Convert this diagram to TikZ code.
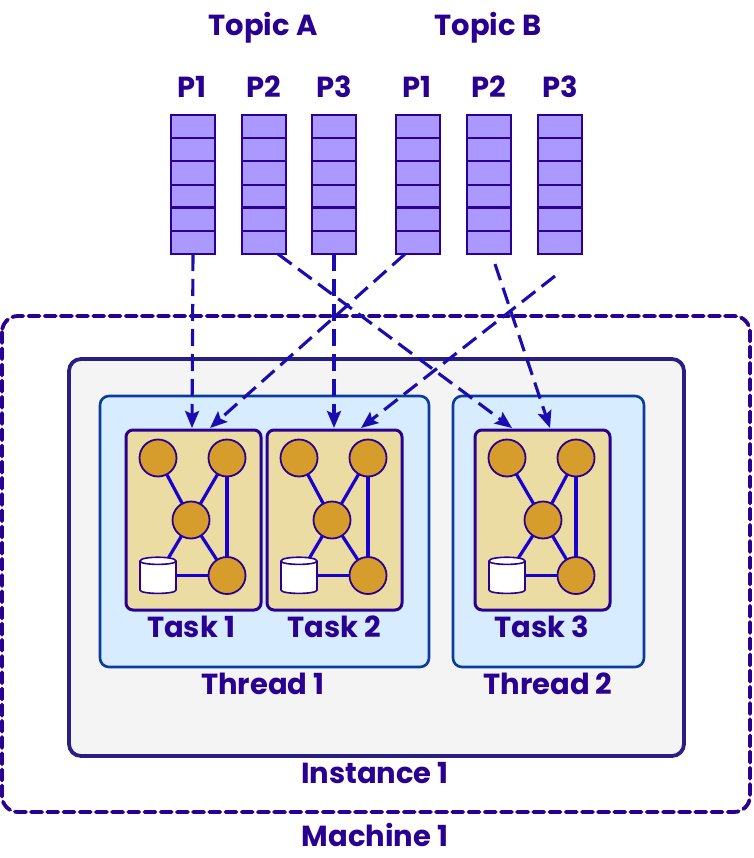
\documentclass[tikz,border=0pt]{standalone}
\usepackage{fontspec}
\setmainfont{Poppins}
\usetikzlibrary{arrows.meta,shapes.geometric,calc}
\definecolor{txt}{HTML}{2A0090}
\definecolor{flow}{HTML}{1A0DB0}
\definecolor{edgeblue}{HTML}{1A00D0}
\definecolor{qfill}{HTML}{AB99FF}
\definecolor{tfill}{HTML}{EBDCA4}
\definecolor{cfill}{HTML}{D79D2C}
\definecolor{thfill}{HTML}{D8ECFF}
\definecolor{thline}{HTML}{0A3C9C}
\definecolor{inline}{HTML}{2A1F80}
\definecolor{infill}{HTML}{F4F4F4}
\newcommand{\qrow}[2]{%
  \node[queuebox] (#1) at (#2,184.5) {};
  \foreach \i/\w in {1/2,2/2,3/2,4/2.8,5/2}{\draw[draw=txt,line width=\w pt] (#2-22,115+\i*23.17) -- (#2+22,115+\i*23.17);}
}
\newcommand{\mktask}[5]{% name, left x, label, mid offset, label x
  \node[taskbox] (#1) at (#2+67.5,520) {};
  \node[opnode] (#1a) at (#2+32,458) {};
  \node[opnode] (#1b) at (#2+101,458) {};
  \node[opnode] (#1c) at (#2+#4,520) {};
  \node[opnode] (#1d) at (#2+101,575.5) {};
  \node[store] (#1e) at (#2+32,575.5) {};
  \draw[storeline] (#2+14,561) -- (#2+14,590) .. controls (#2+14,594.5) and (#2+50,594.5) .. (#2+50,590) -- (#2+50,561)
     .. controls (#2+50,556) and (#2+14,556) .. (#2+14,561) .. controls (#2+14,565.5) and (#2+50,565.5) .. (#2+50,561);
  \draw[graphedge] (#1a) -- (#1c);
  \draw[graphedge] (#1b) -- (#1c);
  \draw[graphedge] (#1b) -- (#1d);
  \draw[graphedge] (#1c) -- (#1d);
  \draw[graphedge] (#1c) -- (#1e);
  \draw[graphedge] (#1e) -- (#1d);
  \node[lbl] at (#5,637) {#3};
}
\tikzset{
  lbl/.style={font=\fontsize{29}{31}\selectfont\bfseries,text=txt,inner sep=0pt,anchor=base},
  queuebox/.style={draw=txt,fill=qfill,line width=2.2pt,minimum width=44pt,minimum height=139pt,inner sep=0pt,outer sep=0pt},
  taskbox/.style={draw=txt,fill=tfill,line width=3pt,rounded corners=7pt,minimum width=135pt,minimum height=180pt,inner sep=0pt,outer sep=0pt},
  opnode/.style={circle,draw=txt,fill=cfill,line width=1.8pt,minimum size=37pt,inner sep=0pt,outer sep=0pt},
  store/.style={rectangle,minimum width=36pt,minimum height=35pt,inner sep=0pt,outer sep=0pt},
  storeline/.style={draw=txt,fill=white,line width=1.6pt},
  graphedge/.style={draw=edgeblue,line width=3.2pt},
  flowline/.style={draw=flow,line width=3.1pt,dash pattern=on 17pt off 8pt,-{Stealth[length=17pt,width=14pt,inset=3pt]}},
  machinebox/.style={draw=txt,line width=3.8pt,rounded corners=16pt,dash pattern=on 11pt off 5.2pt,line cap=round},
  instancebox/.style={draw=inline,fill=infill,line width=3.8pt,rounded corners=12pt},
  threadbox/.style={draw=thline,fill=thfill,line width=2.6pt,rounded corners=9pt},
}
\begin{document}
\begin{tikzpicture}[x=1pt,y=-1pt]
\useasboundingbox (0,0) rectangle (753,858);
\draw[machinebox] (2,316) rectangle (750,812);
\draw[instancebox] (69,359) rectangle (684,756);
\draw[threadbox] (100,396) rectangle (429,667);
\draw[threadbox] (453,396) rectangle (644,667);
\mktask{ta}{126}{Task 1}{65}{191}
\mktask{tb}{267}{Task 2}{65}{334}
\mktask{tc}{475}{Task 3}{68}{542}
\qrow{qa}{193}
\qrow{qb}{264}
\qrow{qc}{334}
\qrow{qd}{418}
\qrow{qe}{489}
\qrow{qf}{560}
\node[lbl] at (263,36) {Topic A};
\node[lbl] at (488,36) {Topic B};
\node[lbl] at (192,98) {P1};
\node[lbl] at (264,98) {P2};
\node[lbl] at (334,98) {P3};
\node[lbl] at (417,98) {P1};
\node[lbl] at (489,98) {P2};
\node[lbl] at (560,98) {P3};
\node[lbl] at (263,694) {Thread 1};
\node[lbl] at (548,694) {Thread 2};
\node[lbl] at (375,783) {Instance 1};
\node[lbl] at (375,846) {Machine 1};
\coordinate (s1) at (qa.south);
\coordinate (s2) at ($(qb.south)+(14,0)$);
\coordinate (s3) at (qc.south);
\coordinate (s4) at ($(qd.south)+(-13,0)$);
\coordinate (s5) at ($(qe.south)+(6,10)$);
\coordinate (s6) at ($(qf.south)+(-5,22)$);
\coordinate (e1) at ($(ta.north west)+(66,-2)$);
\coordinate (e2) at ($(tb.north west)+(67,-2)$);
\coordinate (e3) at ($(tc.north west)+(37,-2)$);
\coordinate (e4) at ($(ta.north west)+(84,-2)$);
\coordinate (e5) at ($(tc.north west)+(75,-2)$);
\coordinate (e6) at ($(tb.north west)+(94,-2)$);
\draw[flowline] (s1) -- (e1);
\draw[flowline] (s2) -- (e3);
\draw[flowline] (s3) -- (e2);
\draw[flowline] (s4) -- (e4);
\draw[flowline] (s5) -- (e5);
\draw[flowline] (s6) -- (e6);
\end{tikzpicture}
\end{document}
